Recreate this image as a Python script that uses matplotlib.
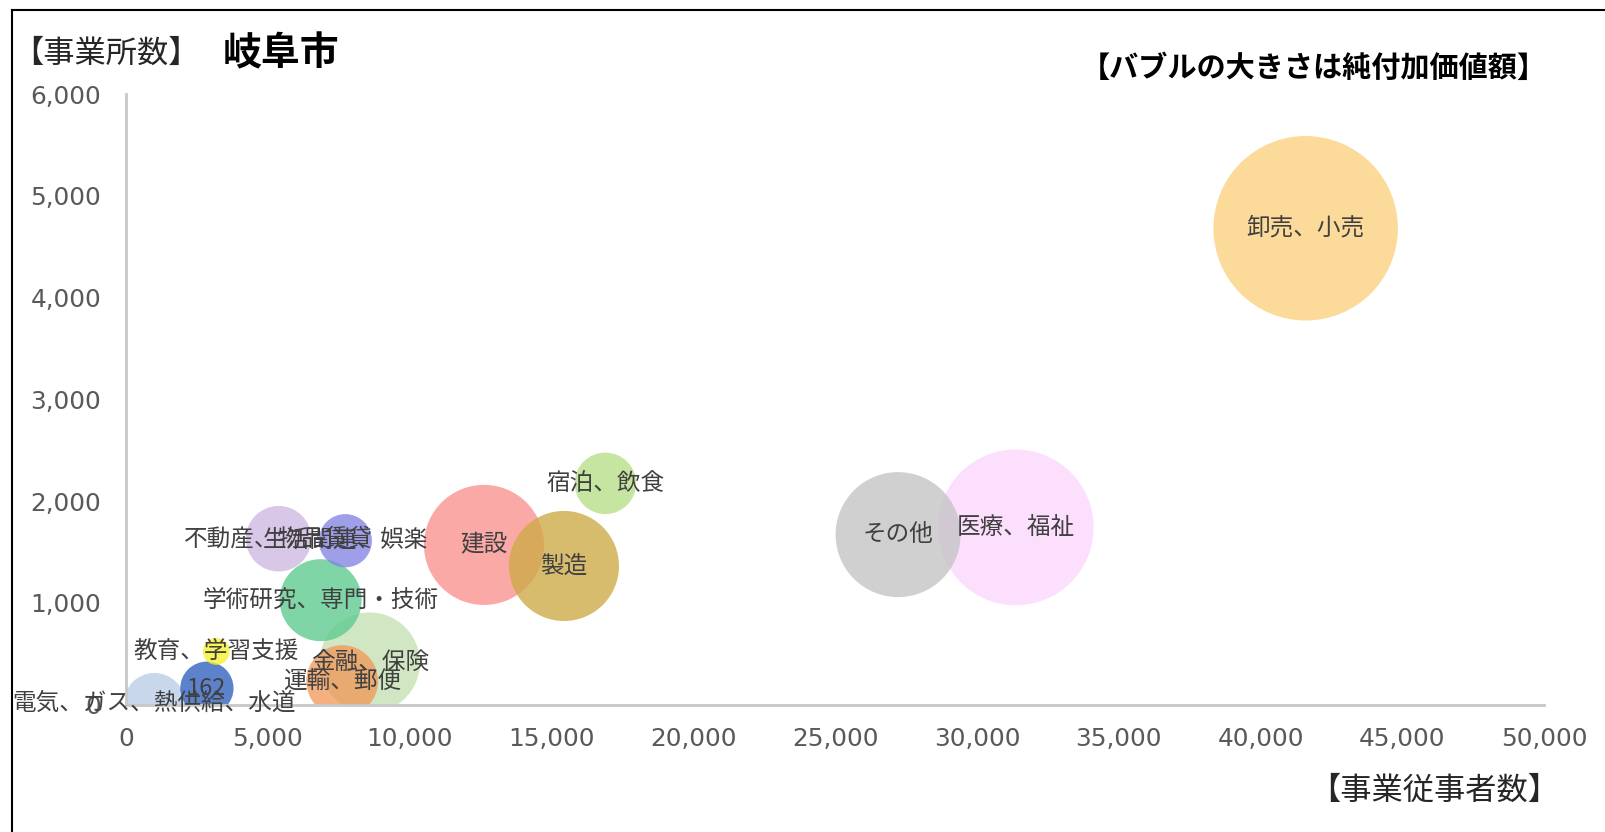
import matplotlib
matplotlib.use("Agg")
import matplotlib.pyplot as plt
from matplotlib.lines import Line2D
from matplotlib.ticker import FuncFormatter

JP = ['Noto Sans CJK JP', 'DejaVu Sans']

# 産業分類ごとの値（図から読み取った推定値）
labels = ['卸売、小売', '医療、福祉', 'その他', '宿泊、飲食', '建設', '製造',
          '不動産、物品賃貸', '生活関連、娯楽', '学術研究、専門・技術',
          '金融、保険', '運輸、郵便', '教育、学習支援', '162',
          '電気、ガス、熱供給、水道']
employees = [41590, 31370, 27220, 16900, 12620, 15440,
             5380, 7730, 6860, 8590, 7620, 3180, 2850, 1000]
establishments = [4681, 1742, 1671, 2175, 1570, 1363,
                  1631, 1611, 1027, 413, 232, 523, 162, 10]
value_added = [3000, 2139, 1378, 333, 1272, 1068,
               379, 250, 593, 889, 454, 63, 250, 333]

# 白地に透けて見える色
seen_colors = ['#FCDA9A', '#FDE0FD', '#D2D0D2', '#C5E5A1', '#FCA9A8', '#D9BD6E',
               '#D8C8E6', '#9E9EE9', '#80D6A7', '#D2E7C4', '#F4B07F', '#F8F45A',
               '#5C82CC', '#C9D7EE']
ALPHA = 0.78


def base_color(hexstr, a=ALPHA):
    rgb = [int(hexstr[i:i + 2], 16) / 255 for i in (1, 3, 5)]
    return tuple(min(1, max(0, (c - (1 - a)) / a)) for c in rgb)


fig = plt.figure(figsize=(16.06, 8.32), dpi=100)
ax = fig.add_axes([0.0785, 0.153, 0.883, 0.734])

size_scale = 17640 / max(value_added)
order = sorted(range(len(labels)), key=lambda i: -value_added[i])
for i in order:
    ax.scatter(employees[i], establishments[i], s=value_added[i] * size_scale,
               color=base_color(seen_colors[i]), alpha=ALPHA, edgecolors='none',
               zorder=2)

for i, lab in enumerate(labels):
    ax.text(employees[i], establishments[i], lab, ha='center', va='center',
            fontsize=17, color='#404040', family=JP, zorder=5)

ax.set_xlim(0, 50000)
ax.set_ylim(0, 6000)
ax.set_xticks(range(0, 50001, 5000))
ax.set_yticks(range(0, 6001, 1000))
fmt = FuncFormatter(lambda v, p: f'{int(v):,}')
ax.xaxis.set_major_formatter(fmt)
ax.yaxis.set_major_formatter(fmt)
ax.tick_params(axis='both', length=0, labelsize=17.8, labelcolor='#595959')
ax.tick_params(axis='x', pad=16)
ax.tick_params(axis='y', pad=18)
for t in ax.get_xticklabels() + ax.get_yticklabels():
    t.set_family('DejaVu Sans')

for side in ['top', 'right']:
    ax.spines[side].set_visible(False)
for side in ['left', 'bottom']:
    ax.spines[side].set_color('#C8C8C8')
    ax.spines[side].set_linewidth(2)

fig.text(12.5 / 1606, 1 - 54 / 832, '【事業所数】', fontsize=22.5, color='#262626',
         family=JP, ha='left', va='center')
fig.text(223 / 1606, 1 - 54 / 832, '岐阜市', fontsize=28, fontweight='bold',
         color='black', family=JP, ha='left', va='center')
fig.text(1081 / 1606, 1 - 68 / 832, '【バブルの大きさは純付加価値額】', fontsize=21,
         fontweight='bold', color='black', family=JP, ha='left', va='center')
fig.text(1559 / 1606, 1 - 791 / 832, '【事業従事者数】', fontsize=22.5, color='#262626',
         family=JP, ha='right', va='center')

# 外枠（上と左だけが見えている）
fig.add_artist(Line2D([12 / 1606, 1], [1 - 10 / 832, 1 - 10 / 832],
                      transform=fig.transFigure, color='black', lw=1.5))
fig.add_artist(Line2D([12 / 1606, 12 / 1606], [0, 1 - 10 / 832],
                      transform=fig.transFigure, color='black', lw=1.5))

fig.savefig('out.png', dpi=100)
